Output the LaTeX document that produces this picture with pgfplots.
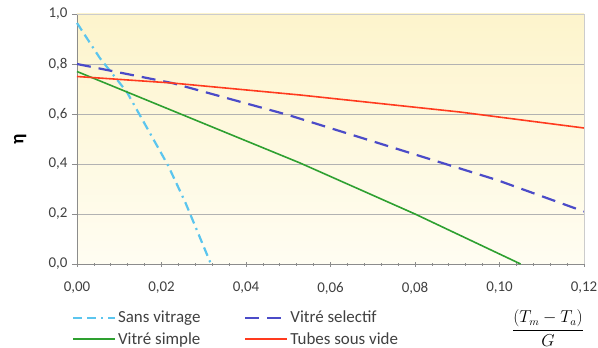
\documentclass[border=0pt]{standalone}
\usepackage{fontspec}
\setmainfont{Carlito}
\usepackage{pgfplots}
\pgfplotsset{compat=1.18}
\definecolor{cyanl}{RGB}{91,197,238}
\definecolor{bluel}{RGB}{75,75,200}
\definecolor{greenl}{RGB}{46,160,48}
\definecolor{redl}{RGB}{255,58,30}
\definecolor{tickc}{RGB}{64,64,64}
\begin{document}
\begin{tikzpicture}
\useasboundingbox (-77bp,-84bp) rectangle (521bp,264bp);
\begin{axis}[
  scale only axis, width=507bp, height=250bp,
  xmin=0, xmax=0.12, ymin=0, ymax=1,
  xtick={0,0.02,...,0.12}, ytick={0,0.2,...,1},
  minor x tick num=4,
  /pgf/number format/.cd, fixed, fixed zerofill, use comma, assume math mode=true,
  /pgfplots/.cd,
  xticklabel style={/pgf/number format/precision=2, yshift=-12bp},
  yticklabel style={/pgf/number format/precision=1, xshift=-1bp},
  ticklabel style={font=\fontsize{15}{17}\selectfont, text=tickc},
  ymajorgrids, major grid style={gray!60, line width=0.6pt},
  axis line style={gray!90, line width=1pt},
  tick style={gray!90, line width=0.8pt},
  major tick length=5bp, minor tick length=3bp,
  xtick align=center, ytick align=outside,
  xtick pos=bottom, ytick pos=left,
  axis background/.style={shade, top color={rgb,255:red,253;green,244;blue,204}, bottom color={rgb,255:red,255;green,253;blue,242}},
  ylabel={\fontsize{19}{21}\selectfont\bfseries η},
  ylabel style={at={(rel axis cs:-0.112,0.5)}, anchor=center},
  legend columns=2,
  legend style={draw=none, fill=none, at={(rel axis cs:-0.016,-0.172)}, anchor=north west,
    font=\fontsize{17}{19}\selectfont, text=tickc, row sep=4bp,
    /tikz/every even column/.append style={column sep=42bp}},
  legend cell align=left,
  legend image code/.code={\draw[#1, line width=2pt] (0bp,0bp) -- (42bp,0bp);},
  clip=false,
]
\addplot[cyanl, line width=2.2pt, dash pattern=on 9bp off 5bp on 9bp off 5bp on 2bp off 5bp] coordinates {(0,0.964) (0.0054,0.824) (0.0118,0.688) (0.0215,0.396) (0.0256,0.248) (0.0317,0)};
\addlegendentry{Sans vitrage}
\addplot[bluel, line width=2.2pt, dash pattern=on 14bp off 8bp] coordinates {(0,0.80) (0.0225,0.724) (0.05,0.596) (0.0994,0.336) (0.12,0.21)};
\addlegendentry{Vitré selectif}
\addplot[greenl, line width=1.6pt] coordinates {(0,0.77) (0.0528,0.404) (0.08,0.2) (0.105,0)};
\addlegendentry{Vitré simple}
\addplot[redl, line width=1.6pt] coordinates {(0,0.75) (0.0225,0.724) (0.0528,0.676) (0.0906,0.608) (0.12,0.544)};
\addlegendentry{Tubes sous vide}
\draw[gray!40, line width=0.8pt] (rel axis cs:0,1) -- (rel axis cs:1,1) -- (rel axis cs:1,0);
\node at (rel axis cs:0.929,-0.256) {\fontsize{16}{18}\selectfont $\displaystyle\frac{(T_m - T_a)}{G}$};
\end{axis}
\end{tikzpicture}
\end{document}
